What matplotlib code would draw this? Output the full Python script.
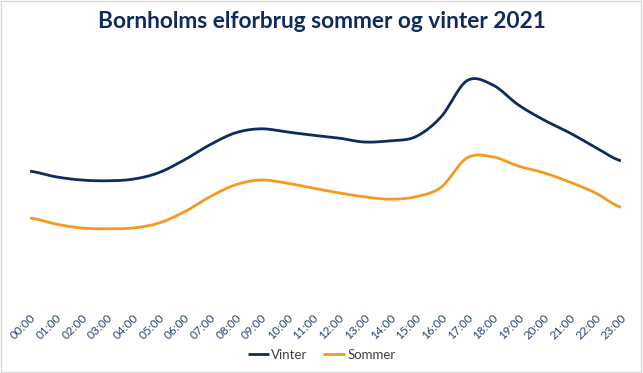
import numpy as np
import matplotlib
matplotlib.use("Agg")
import matplotlib.pyplot as plt
from matplotlib.patches import Rectangle

hours = ["%02d:00" % h for h in range(24)]

# relative consumption (no y axis shown in the original)
vinter = [32.2, 30.8, 30.0, 29.8, 30.2, 31.8, 35.0, 38.8, 41.8, 42.8, 42.0, 41.2,
          40.5, 39.5, 39.8, 40.8, 45.8, 54.8, 53.8, 48.8, 45.0, 41.8, 38.2, 34.8]
sommer = [20.5, 19.0, 18.0, 17.8, 18.0, 19.2, 22.0, 25.8, 28.8, 30.0, 29.2, 28.0,
          26.8, 25.8, 25.2, 25.8, 28.2, 35.5, 35.8, 33.5, 31.8, 29.5, 26.8, 23.2]

navy = "#0f2a5c"
orange = "#f39a1f"


def smooth(y, n=20):
    # Excel-like smoothed line (Catmull-Rom through the points)
    y = np.asarray(y, float)
    p = np.concatenate([[y[0]], y, [y[-1]]])
    xs, ys = [], []
    for i in range(len(y) - 1):
        p0, p1, p2, p3 = p[i], p[i + 1], p[i + 2], p[i + 3]
        t = np.linspace(0, 1, n, endpoint=False)
        c1 = p1 + (p2 - p0) / 6
        c2 = p2 - (p3 - p1) / 6
        v = (1 - t) ** 3 * p1 + 3 * (1 - t) ** 2 * t * c1 + 3 * (1 - t) * t ** 2 * c2 + t ** 3 * p2
        xs.append(i + t)
        ys.append(v)
    xs.append([len(y) - 1])
    ys.append([y[-1]])
    return np.concatenate(xs), np.concatenate(ys)


plt.rcParams["font.family"] = ["Lato", "DejaVu Sans"]

fig = plt.figure(figsize=(6.43, 3.73), dpi=100)
ax = fig.add_axes([30 / 643, 1 - 300 / 373, 591 / 643, 240 / 373])

x, y = smooth(vinter)
ax.plot(x, y, color=navy, lw=2.0, label="Vinter", solid_capstyle="butt")
x, y = smooth(sommer)
ax.plot(x, y, color=orange, lw=2.0, label="Sommer", solid_capstyle="butt")

ax.set_xlim(0, 23)
ax.set_ylim(0, 60)
ax.set_yticks([])
ax.set_xticks(range(len(hours)))
ax.set_xticklabels(hours, rotation=45, ha="right", va="top", rotation_mode="anchor",
                   fontsize=8.5, color="#2a4470")
ax.tick_params(axis="x", length=0, pad=9)
for s in ax.spines.values():
    s.set_visible(False)

fig.text(0.5, 1 - 22 / 373, "Bornholms elforbrug sommer og vinter 2021", ha="center", va="center",
         fontsize=16.3, fontweight="bold", color=navy)

fig.legend(loc="center", bbox_to_anchor=(0.5, 1 - 355 / 373), ncol=2, frameon=False,
           handlelength=1.6, handletextpad=0.2, columnspacing=1.2, fontsize=9.5,
           labelcolor="#404040")

fig.patches.append(Rectangle((0.002, 0.003), 0.995, 0.994, transform=fig.transFigure,
                             fill=False, edgecolor="#d9d9d9", lw=1))

fig.savefig("out.png", dpi=100)
